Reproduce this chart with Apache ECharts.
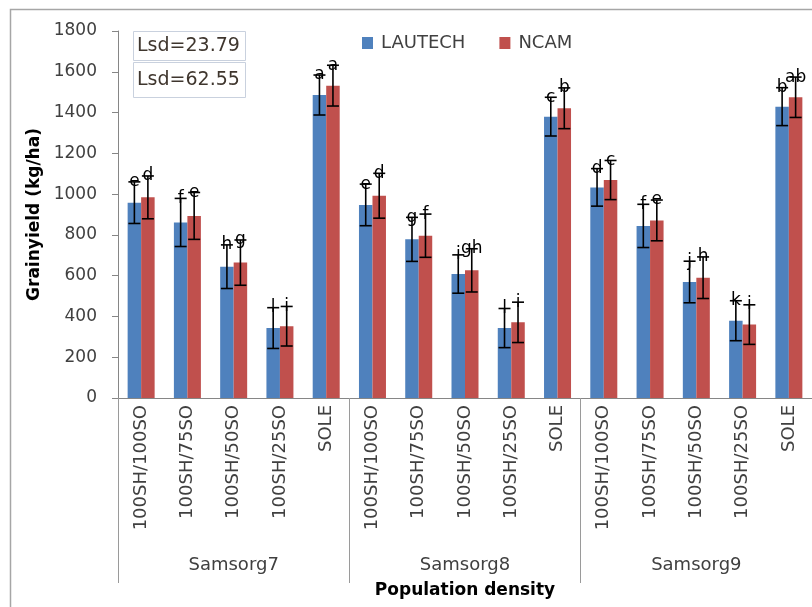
<!DOCTYPE html>
<html>
<head>
<meta charset="utf-8">
<script src="https://cdn.jsdelivr.net/npm/echarts@6/dist/echarts.min.js"></script>
<style>html,body{margin:0;padding:0;background:#fff;}#c{width:812px;height:607px;}</style>
</head>
<body>
<div id="c"></div>
<script>
const categories = ['100SH/100SO','100SH/75SO','100SH/50SO','100SH/25SO','SOLE',
                    '100SH/100SO','100SH/75SO','100SH/50SO','100SH/25SO','SOLE',
                    '100SH/100SO','100SH/75SO','100SH/50SO','100SH/25SO','SOLE'];
const groups = ['Samsorg7','Samsorg8','Samsorg9'];
const seriesNames = ['LAUTECH','NCAM'];
const lautech = [958,861,644,343,1486, 947,778,608,343,1380, 1033,844,569,379,1429];
const ncam    = [984,893,664,352,1532, 992,796,626,371,1421, 1069,871,590,360,1475];
const lautechErr = [102,118,107,100,98, 102,108,94,96,95, 92,106,102,98,93];
const ncamErr    = [105,115,111,97,100, 110,106,106,99,100, 96,100,102,97,99];
const lautechLetters = ['e','f','h','l','a', 'e','g','i','l','c', 'd','f','j','k','b'];
const ncamLetters    = ['d','e','g','i','a', 'd','f','gh','i','b', 'c','e','h','i','ab'];
const lsdLabels = ['Lsd=23.79','Lsd=62.55'];
const yTicks = {min:0, max:1800, interval:200};

const FONT = 'DejaVu Sans';
const BLUE = '#4F81BD', RED = '#C0504D';
const BARW = 13.5;

function errSeries(vals, errs, letters, sign){
  return {
    type:'custom', xAxisIndex:0, yAxisIndex:0, z:10, silent:true,
    data: vals.map((v,i)=>[i, v, errs[i]]),
    renderItem: function(params, api){
      const i = api.value(0), v = api.value(1), e = api.value(2);
      const t = api.coord([i, v+e]);
      const b = api.coord([i, v-e]);
      const x = t[0] + sign*BARW/2;
      const cap = 6;
      const st = {stroke:'#000', lineWidth:1.6};
      return {type:'group', children:[
        {type:'line', shape:{x1:x,y1:t[1],x2:x,y2:b[1]}, style:st},
        {type:'line', shape:{x1:x-cap,y1:t[1],x2:x+cap,y2:t[1]}, style:st},
        {type:'line', shape:{x1:x-cap,y1:b[1],x2:x+cap,y2:b[1]}, style:st},
        {type:'text', x:x, y:t[1], style:{text:letters[params.dataIndex], fill:'#000',
          font:'17px "'+FONT+'"', align:'center', verticalAlign:'middle'}}
      ]};
    }
  };
}

const chart = echarts.init(document.getElementById('c'));
chart.setOption({
  animation:false,
  textStyle:{fontFamily:FONT},
  grid:{left:118, top:31, width:705, bottom:209, containLabel:false},
  legend:{left:357, top:29, itemWidth:11, itemHeight:12, itemGap:34,
    textStyle:{fontFamily:FONT, fontSize:18, color:'#404040', padding:[0,0,0,3]},
    data:seriesNames.map(n=>({name:n, icon:'rect'}))},
  xAxis:[
    {type:'category', data:categories, position:'bottom',
     axisLine:{lineStyle:{color:'#868686', width:1}},
     axisTick:{interval:0, length:142, lineStyle:{color:'#9a9a9a'}},
     axisLabel:{interval:0, rotate:90, margin:7, fontFamily:FONT, fontSize:18, color:'#404040'}},
    {type:'category', data:groups, position:'bottom',
     axisLine:{show:false},
     axisTick:{show:true, interval:0, length:185, lineStyle:{color:'#9a9a9a'}},
     axisLabel:{interval:0, margin:158, fontFamily:FONT, fontSize:18, color:'#404040'},
     name:'Population density', nameLocation:'middle', nameGap:184,
     nameTextStyle:{fontFamily:FONT, fontSize:17, fontWeight:'bold', color:'#000'}}
  ],
  yAxis:{type:'value', min:yTicks.min, max:yTicks.max, interval:yTicks.interval,
    axisLine:{show:true, lineStyle:{color:'#868686'}},
    axisTick:{show:true, length:6, lineStyle:{color:'#868686'}},
    splitLine:{show:false},
    axisLabel:{margin:21, fontFamily:FONT, fontSize:17, color:'#404040', formatter:v=>String(v)},
    name:'Grainyield (kg/ha)', nameLocation:'middle', nameGap:72,
    nameTextStyle:{fontFamily:FONT, fontSize:17, fontWeight:'bold', color:'#000'}},
  graphic:[
    {type:'rect', shape:{x:10.5, y:9.5, width:1000, height:800}, style:{fill:'none', stroke:'#a6a6a6', lineWidth:1.5}, silent:true, z:-1},
    {type:'rect', shape:{x:133.5, y:31.5, width:112, height:29}, style:{fill:'#fff', stroke:'#c9d1de', lineWidth:1}, z:20},
    {type:'rect', shape:{x:133.5, y:62.5, width:112, height:35}, style:{fill:'#fff', stroke:'#c9d1de', lineWidth:1}, z:20},
    {type:'text', x:137, y:46, style:{text:lsdLabels[0], font:'19px "'+FONT+'"', fill:'#3f362e', verticalAlign:'middle'}, z:21},
    {type:'text', x:137, y:80, style:{text:lsdLabels[1], font:'19px "'+FONT+'"', fill:'#3f362e', verticalAlign:'middle'}, z:21}
  ],
  series:[
    {name:seriesNames[0], type:'bar', data:lautech, barWidth:BARW, barGap:'0%', itemStyle:{color:BLUE}},
    {name:seriesNames[1], type:'bar', data:ncam, barWidth:BARW, barGap:'0%', itemStyle:{color:RED}},
    errSeries(lautech, lautechErr, lautechLetters, -1),
    errSeries(ncam, ncamErr, ncamLetters, 1)
  ]
});
</script>
</body>
</html>
